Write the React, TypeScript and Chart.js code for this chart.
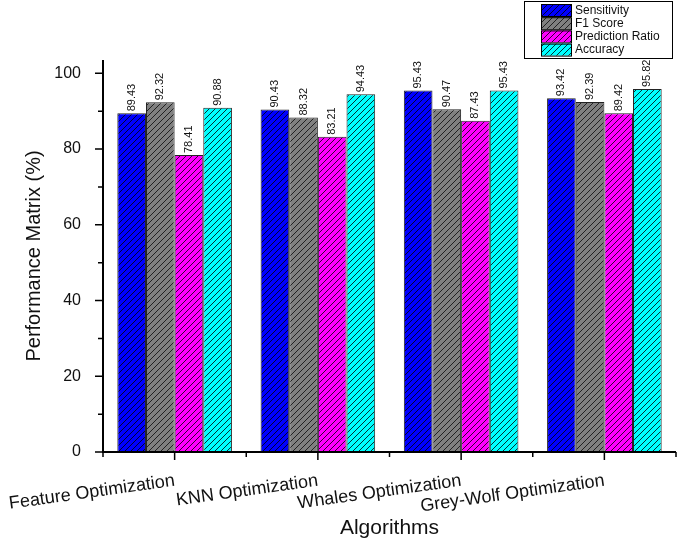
import React, { useEffect, useRef } from "react";
import { Chart, registerables } from "chart.js";

Chart.register(...registerables);

const categories = ["Feature Optimization", "KNN Optimization", "Whales Optimization", "Grey-Wolf Optimization"];
const seriesNames = ["Sensitivity", "F1 Score", "Prediction Ratio", "Accuracy"];
const sensitivity = [89.43, 90.43, 95.43, 93.42];
const f1Score = [92.32, 88.32, 90.47, 92.39];
const predictionRatio = [78.41, 83.21, 87.43, 89.42];
const accuracy = [90.88, 94.43, 95.43, 95.82];
const yTicks = [0, 20, 40, 60, 80, 100];

const baseColors = ["#0000ff", "#808080", "#ff00ff", "#00ffff"];
const lineColors = ["#000033", "#222222", "#330033", "#003333"];
const FONT = "Arial, 'Liberation Sans', sans-serif";

function makePattern(base: string, line: string): CanvasPattern | string {
  const c = document.createElement("canvas");
  const s = 6;
  c.width = s;
  c.height = s;
  const g = c.getContext("2d");
  if (!g) return base;
  g.fillStyle = base;
  g.fillRect(0, 0, s, s);
  g.strokeStyle = line;
  g.lineWidth = 1;
  g.beginPath();
  g.moveTo(-1, s + 1);
  g.lineTo(s + 1, -1);
  g.moveTo(-1, 1);
  g.lineTo(1, -1);
  g.moveTo(s - 1, s + 1);
  g.lineTo(s + 1, s - 1);
  g.stroke();
  const p = g.createPattern(c, "repeat");
  return p || base;
}

export default function App() {
  const ref = useRef<HTMLCanvasElement | null>(null);

  useEffect(() => {
    if (!ref.current) return;
    const patterns = baseColors.map((b, i) => makePattern(b, lineColors[i]));
    const values = [sensitivity, f1Score, predictionRatio, accuracy];

    const axesPlugin = {
      id: "axesPlugin",
      afterDatasetsDraw(chart: any) {
        const ctx = chart.ctx;
        const { left, right, top, bottom } = chart.chartArea;
        const xs = chart.scales.x;
        const ys = chart.scales.y;
        ctx.save();
        ctx.strokeStyle = "#000";
        ctx.lineWidth = 2;
        ctx.beginPath();
        ctx.moveTo(left, top);
        ctx.lineTo(left, bottom);
        ctx.moveTo(left - 1, bottom);
        ctx.lineTo(right, bottom);
        ctx.stroke();
        ctx.lineWidth = 1.5;
        ctx.beginPath();
        for (let v = 0; v <= 100; v += 10) {
          const y = ys.getPixelForValue(v);
          const len = v % 20 === 0 ? 8 : 5;
          ctx.moveTo(left, y);
          ctx.lineTo(left - len, y);
        }
        const n = categories.length;
        for (let i = 0; i < n; i++) {
          const x = xs.getPixelForValue(i);
          ctx.moveTo(x, bottom);
          ctx.lineTo(x, bottom + 8);
        }
        for (let i = 0; i <= n; i++) {
          const x = xs.getPixelForValue(i - 0.5);
          ctx.moveTo(x, bottom);
          ctx.lineTo(x, bottom + 5);
        }
        ctx.stroke();

        // value labels
        ctx.fillStyle = "#111";
        ctx.font = `11px ${FONT}`;
        ctx.textAlign = "left";
        ctx.textBaseline = "middle";
        chart.data.datasets.forEach((ds: any, di: number) => {
          const meta = chart.getDatasetMeta(di);
          meta.data.forEach((bar: any, j: number) => {
            const val = ds.data[j];
            ctx.save();
            ctx.translate(bar.x, bar.y - 2);
            ctx.rotate(-Math.PI / 2);
            ctx.fillText(val.toFixed(2), 0, 0);
            ctx.restore();
          });
        });

        // legend
        const lx = 524, ly = 1, lw = 148, lh = 57;
        ctx.fillStyle = "#fff";
        ctx.fillRect(lx, ly, lw, lh);
        ctx.strokeStyle = "#000";
        ctx.lineWidth = 1;
        ctx.strokeRect(lx + 0.5, ly + 0.5, lw, lh);
        seriesNames.forEach((name, i) => {
          const sy = ly + 3 + i * 13.2;
          ctx.fillStyle = patterns[i] as any;
          ctx.fillRect(541, sy, 30, 12);
          ctx.strokeStyle = "#000";
          ctx.strokeRect(541.5, sy + 0.5, 30, 12);
          ctx.fillStyle = "#111";
          ctx.font = `12px ${FONT}`;
          ctx.textAlign = "left";
          ctx.textBaseline = "middle";
          ctx.fillText(name, 575, sy + 6.5);
        });
        ctx.restore();
      },
    };

    const chart = new Chart(ref.current, {
      type: "bar",
      data: {
        labels: categories,
        datasets: seriesNames.map((name, i) => ({
          label: name,
          data: values[i],
          backgroundColor: patterns[i] as any,
          borderColor: "#222",
          borderWidth: 1,
          categoryPercentage: 0.8,
          barPercentage: 1,
        })),
      },
      options: {
        animation: false,
        responsive: false,
        maintainAspectRatio: false,
        layout: { padding: { left: 0, right: 9, top: 60, bottom: 0 } },
        plugins: {
          legend: { display: false },
          tooltip: { enabled: false },
        },
        scales: {
          x: {
            grid: { display: false },
            border: { display: false },
            ticks: {
              color: "#111",
              font: { family: FONT, size: 18 },
              minRotation: 8,
              maxRotation: 8,
              padding: 10,
              autoSkip: false,
            },
            title: {
              display: true,
              text: "Algorithms",
              color: "#111",
              font: { family: FONT, size: 21 },
              padding: { top: 0, bottom: 5 },
            },
            afterFit: (s: any) => {
              s.height = 94;
              s.paddingLeft = 0;
              s.paddingRight = 0;
            },
          },
          y: {
            min: 0,
            max: 103.5,
            grid: { display: false },
            border: { display: false },
            afterBuildTicks: (s: any) => {
              s.ticks = yTicks.map((v) => ({ value: v }));
            },
            ticks: {
              color: "#111",
              font: { family: FONT, size: 16 },
              padding: 14,
            },
            title: {
              display: true,
              text: "Performance Matrix (%)",
              color: "#111",
              font: { family: FONT, size: 20 },
              padding: { top: 22, bottom: 0 },
            },
            afterFit: (s: any) => {
              s.width = 103;
              s.paddingTop = 0;
              s.paddingBottom = 0;
            },
          },
        },
      },
      plugins: [axesPlugin],
    });
    return () => chart.destroy();
  }, []);

  return (
    <div style={{ position: "absolute", left: 0, top: 0, width: 685, height: 546, background: "#fff" }}>
      <canvas ref={ref} width={685} height={546} />
    </div>
  );
}
